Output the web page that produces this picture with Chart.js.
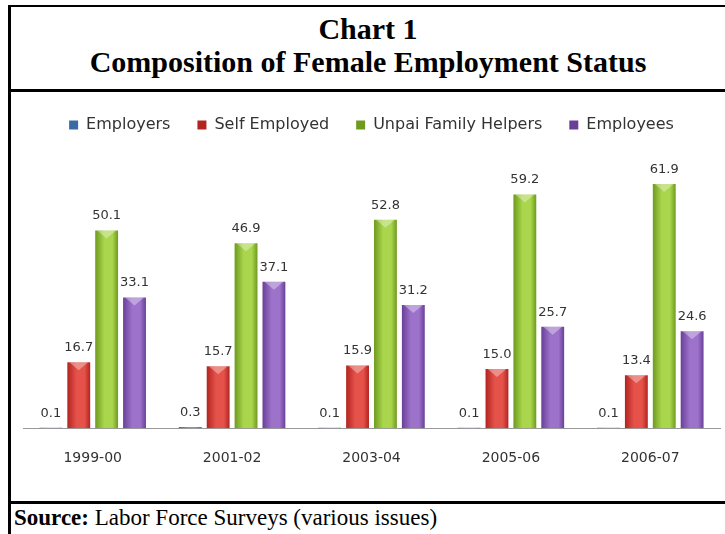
<!DOCTYPE html>
<html lang="en">
<head>
    <meta charset="UTF-8">
    <title>Composition of Female Employment Status</title>
    <script src="https://cdn.jsdelivr.net/npm/chart.js"></script>
    <style>
        body {
            margin: 0;
            background: #fff;
            width: 725px;
            height: 534px;
            overflow: hidden;
            position: relative;
        }
        .frame {
            position: absolute;
            left: 8px;
            top: 5px;
            width: 717px;
            height: 529px;
            border-left: 3px solid #000;
            border-top: 2px solid #000;
            box-sizing: border-box;
        }
        .title {
            height: 85px;
            border-bottom: 3px solid #000;
            box-sizing: border-box;
            text-align: center;
            font-family: "Liberation Serif", "Times New Roman", serif;
            font-weight: bold;
            font-size: 30px;
            line-height: 33px;
            padding-top: 5px;
        }
        .chart-box {
            position: relative;
            width: 714px;
            height: 409px;
        }
        .source {
            border-top: 3px solid #000;
            font-family: "Liberation Serif", "Times New Roman", serif;
            font-size: 23px;
            line-height: 25px;
            padding: 1px 0 0 3px;
        }
    </style>
</head>
<body>
    <div class="frame">
        <div class="title">Chart 1<br>Composition of Female Employment Status</div>
        <div class="chart-box">
            <canvas id="empChart" width="714" height="409"></canvas>
        </div>
        <div class="source"><b>Source:</b> Labor Force Surveys (various issues)</div>
    </div>

    <script>
        const categories = ["1999-00", "2001-02", "2003-04", "2005-06", "2006-07"];
        const seriesNames = ["Employers", "Self Employed", "Unpai Family Helpers", "Employees"];
        const employers = [0.1, 0.3, 0.1, 0.1, 0.1];
        const selfEmployed = [16.7, 15.7, 15.9, 15.0, 13.4];
        const unpaidHelpers = [50.1, 46.9, 52.8, 59.2, 61.9];
        const employees = [33.1, 37.1, 31.2, 25.7, 24.6];

        // legend colour, bar edge, bar centre
        const shades = [
            ["#4f81bd", "#3a6aa5", "#6f9ad2"],
            ["#c0504d", "#b3241f", "#e4524a"],
            ["#9bbb59", "#6f9a1f", "#a9d64c"],
            ["#8064a2", "#6a3f97", "#9d72cb"]
        ];

        const CAT_PCT = 0.8;
        const BAR_PCT = 0.82;

        // horizontal gradient so the bars look rounded
        function barFill(s) {
            return (ctx) => {
                const chart = ctx.chart;
                const x = chart.scales.x;
                if (ctx.type !== "data" || !x || !chart.chartArea) return s[0];
                const pitch = (x.right - x.left) / categories.length * CAT_PCT / 4;
                const cx = x.getPixelForValue(ctx.dataIndex) + (ctx.datasetIndex - 1.5) * pitch;
                const w = pitch * BAR_PCT;
                const g = chart.ctx.createLinearGradient(cx - w / 2, 0, cx + w / 2, 0);
                g.addColorStop(0, s[1]);
                g.addColorStop(0.4, s[2]);
                g.addColorStop(0.75, s[2]);
                g.addColorStop(1, s[1]);
                return g;
            };
        }

        const legendFit = {
            id: "legendFit",
            beforeInit(chart) {
                const fit = chart.legend.fit;
                chart.legend.fit = function () {
                    fit.call(this);
                    this.height = 62;
                };
            }
        };

        // light cap on top of each bar + value labels
        const barDecor = {
            id: "barDecor",
            afterDatasetsDraw(chart) {
                const c = chart.ctx;
                chart.data.datasets.forEach((ds, di) => {
                    const meta = chart.getDatasetMeta(di);
                    meta.data.forEach((el, i) => {
                        const h = el.base - el.y;
                        if (h > 10) {
                            const w = el.width;
                            c.save();
                            c.fillStyle = "rgba(255,255,255,0.35)";
                            c.beginPath();
                            c.moveTo(el.x - w / 2 + 2, el.y);
                            c.lineTo(el.x + w / 2 - 2, el.y);
                            c.lineTo(el.x, el.y + 8);
                            c.closePath();
                            c.fill();
                            c.restore();
                        }
                        c.save();
                        c.fillStyle = "#333";
                        c.font = "13px 'DejaVu Sans', Verdana, sans-serif";
                        c.textAlign = "center";
                        c.textBaseline = "bottom";
                        c.fillText(ds.data[i].toFixed(1), el.x, el.y - 8);
                        c.restore();
                    });
                });
            }
        };

        const seriesData = [employers, selfEmployed, unpaidHelpers, employees];

        const empChart = new Chart(document.getElementById("empChart"), {
            type: "bar",
            data: {
                labels: categories,
                datasets: seriesNames.map((name, k) => ({
                    label: name,
                    data: seriesData[k],
                    backgroundColor: barFill(shades[k]),
                    borderWidth: 0,
                    categoryPercentage: CAT_PCT,
                    barPercentage: BAR_PCT
                }))
            },
            options: {
                responsive: false,
                animation: false,
                layout: {
                    padding: { top: -2, left: 12, right: 5, bottom: 12 }
                },
                plugins: {
                    legend: {
                        position: "top",
                        labels: {
                            boxWidth: 9,
                            boxHeight: 9,
                            padding: 27,
                            color: "#333",
                            font: { family: "'DejaVu Sans', Verdana, sans-serif", size: 16 }
                        }
                    },
                    tooltip: { enabled: false }
                },
                scales: {
                    x: {
                        grid: { display: false, drawTicks: false },
                        border: { display: true, color: "#999", width: 1 },
                        ticks: {
                            padding: 22,
                            color: "#333",
                            font: { family: "'DejaVu Sans', Verdana, sans-serif", size: 14 }
                        }
                    },
                    y: {
                        display: false,
                        min: 0,
                        max: 70
                    }
                }
            },
            plugins: [legendFit, barDecor]
        });
    </script>
</body>
</html>
